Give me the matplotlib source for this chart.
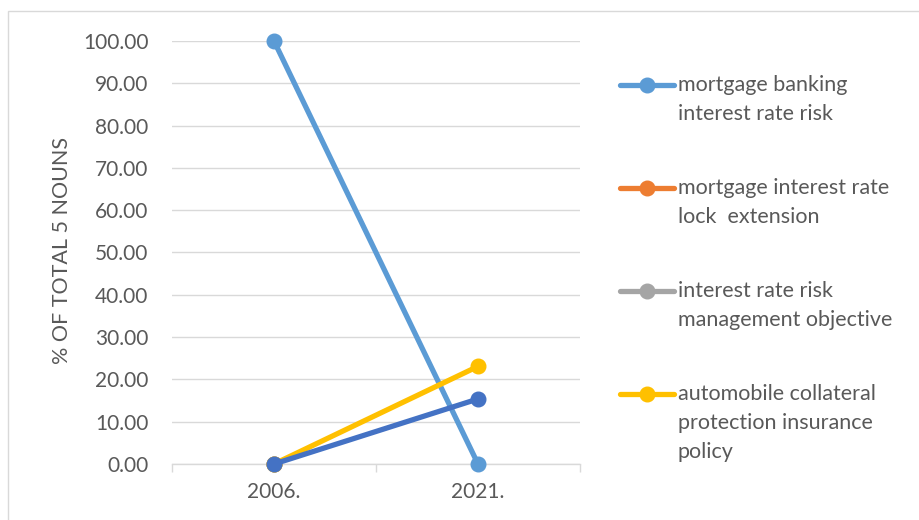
import matplotlib
matplotlib.use("Agg")
import matplotlib.pyplot as plt
from matplotlib.lines import Line2D
from matplotlib.patches import Rectangle
import numpy as np

plt.rcParams['font.family'] = ['Lato', 'DejaVu Sans']

# Data
years = ["2006.", "2021."]
series_names = [
    "mortgage banking\ninterest rate risk",
    "mortgage interest rate\nlock  extension",
    "interest rate risk\nmanagement objective",
    "automobile collateral\nprotection insurance\npolicy",
    "interest rate risk\nmanagement",
]
mortgage_banking = [100.00, 0.00]
rate_lock_extension = [0.00, np.nan]
risk_objective = [0.00, np.nan]
collateral_insurance = [0.00, 23.08]
risk_management = [0.00, 15.38]
series_values = [mortgage_banking, rate_lock_extension, risk_objective,
                 collateral_insurance, risk_management]
colors = ["#5B9BD5", "#ED7D31", "#A5A5A5", "#FFC000", "#4472C4"]
y_ticks = [0, 10, 20, 30, 40, 50, 60, 70, 80, 90, 100]

TEXT = "#595959"
GRID = "#D9D9D9"
W, H = 920, 520
LW = 3.8
MS = 10.5

fig = plt.figure(figsize=(W / 100, H / 100), dpi=100)
fig.patch.set_facecolor("white")

# Chart border
fig.add_artist(Rectangle((8 / W, -0.05), 1.05, 1 - 11 / H + 0.05,
                         transform=fig.transFigure, fill=False,
                         edgecolor=GRID, linewidth=1.0))

left, right, top, bottom = 172, 580, 41, 464
ax = fig.add_axes([left / W, 1 - bottom / H, (right - left) / W, (bottom - top) / H])

x = np.arange(len(years))
for vals, c in zip(series_values, colors):
    ax.plot(x, vals, color=c, linewidth=LW, marker="o", markersize=MS,
            solid_capstyle="round", clip_on=False, zorder=3)

ax.set_xlim(-0.5, len(years) - 0.5)
ax.set_ylim(0, 100)
ax.set_yticks(y_ticks)
ax.set_yticklabels([f"{v:.2f}" for v in y_ticks])
ax.set_xticks(x)
ax.set_xticklabels(years)
ax.set_xticks(np.arange(-0.5, len(years)), minor=True)

ax.grid(axis="y", color=GRID, linewidth=1.0)
ax.set_axisbelow(True)
for s in ["top", "right", "left"]:
    ax.spines[s].set_visible(False)
ax.spines["bottom"].set_color(GRID)
ax.spines["bottom"].set_linewidth(1.0)

ax.tick_params(axis="y", length=0, pad=17, labelsize=15, labelcolor=TEXT)
ax.tick_params(axis="x", which="major", length=0, pad=13, labelsize=15, labelcolor=TEXT)
ax.tick_params(axis="x", which="minor", length=6, width=1.0, color=GRID, direction="out")

# Value axis title
fig.text(62 / W, 1 - 250 / H, "% OF TOTAL 5 NOUNS", rotation=90, fontsize=15.5,
         color=TEXT, ha="center", va="center")

# Legend (first four entries fit in the panel)
entry_tops = [85, 188, 291, 394]
line_h = 29
for name, c, yt in zip(series_names[:4], colors[:4], entry_tops):
    yf = 1 - yt / H
    fig.add_artist(Line2D([620 / W, 674 / W], [yf, yf], transform=fig.transFigure,
                          color=c, linewidth=LW, solid_capstyle="round"))
    fig.add_artist(Line2D([647 / W], [yf], transform=fig.transFigure,
                          color=c, marker="o", markersize=MS, linestyle="none"))
    for i, ln in enumerate(name.split("\n")):
        fig.text(678 / W, 1 - (yt + i * line_h) / H, ln, fontsize=15.5,
                 color=TEXT, va="center", ha="left")

fig.savefig("out.png", dpi=100)
